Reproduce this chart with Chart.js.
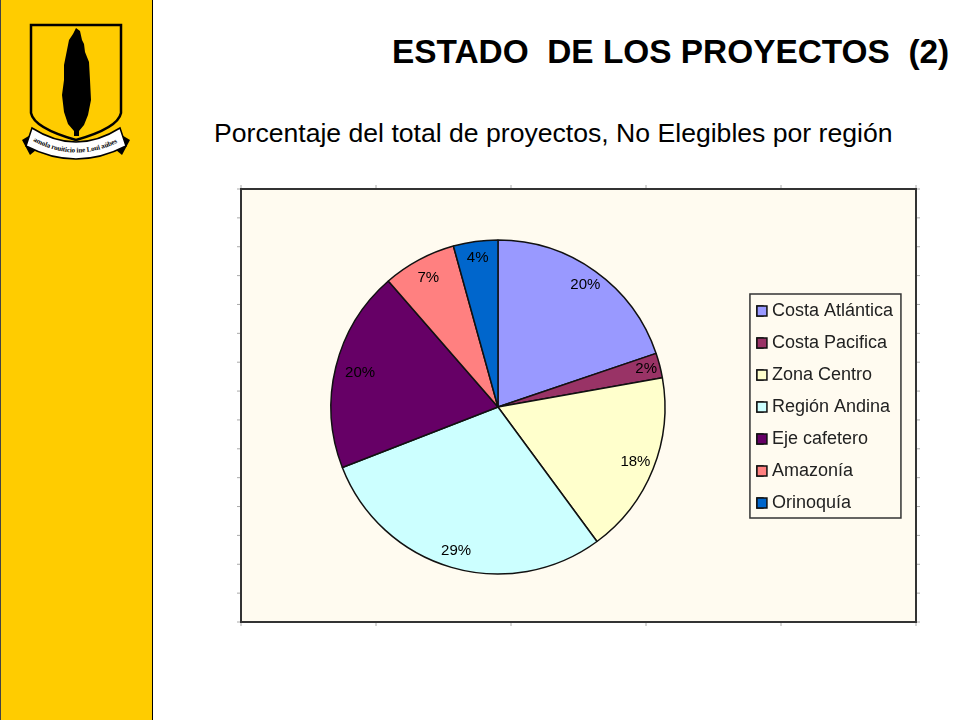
<!DOCTYPE html>
<html>
<head>
<meta charset="utf-8">
<title>Estado de los proyectos (2)</title>
<script src="https://cdn.jsdelivr.net/npm/chart.js@4"></script>
<style>
  html, body { margin: 0; padding: 0; background: #fff; }
  body { width: 960px; height: 720px; overflow: hidden; position: relative; font-family: "Liberation Sans", Arial, sans-serif; color: #000; }
  #sidebar { position: absolute; left: 0; top: 0; width: 151px; height: 720px; background: #FFCC00; border-left: 1px solid #444; border-right: 1px solid #000; }
  #logo { position: absolute; left: -1px; top: 0; }
  #title { position: absolute; left: 392px; top: 34px; font-size: 33.4px; font-weight: bold; white-space: pre; line-height: 36px; }
  #subtitle { position: absolute; left: 214px; top: 118px; font-size: 26.6px; white-space: pre; line-height: 30px; }
  #chartWrap { position: absolute; left: 234px; top: 182px; width: 690px; height: 448px; }
</style>
</head>
<body>
<div id="sidebar">
  <svg id="logo" width="152" height="180" viewBox="0 0 152 180">
    <path d="M31 25 H121 V113 Q118 128 76 140 Q34 128 31 113 Z" fill="#FFCC00" stroke="#000" stroke-width="2.5"/>
    <path d="M76 28 L80 31 L82 40 L84 44 L85 52 L89 62 L90 80 L91 100 L88 115 L84 125 L79 131 L79 136 L74 136 L74 131 L68 124 L64 112 L62 95 L64 80 L64 65 L67 50 L69 40 L73 34 Z" fill="#000"/>
    <path d="M22 140 L32 134 L36 150 L30 155 Z" fill="#000"/>
    <path d="M130 140 L120 134 L116 150 L122 155 Z" fill="#000"/>
    <path id="ribbon" d="M32 128 Q76 156 120 128 L126 146 Q76 172 26 146 Z" fill="#fff" stroke="#000" stroke-width="1.5"/>
    <path id="mottoLine" d="M33 141 Q76 164 121 141" fill="none"/>
    <text font-size="7" font-family="Liberation Serif" font-weight="bold" textLength="88"><textPath href="#mottoLine">amola rouiticio ine Loui aúbes</textPath></text>
  </svg>
</div>
<div id="title">ESTADO  DE LOS PROYECTOS  (2)</div>
<div id="subtitle">Porcentaje del total de proyectos, No Elegibles por región</div>
<div id="chartWrap"><canvas id="pieChart" width="690" height="448"></canvas></div>

<script>
// Chart data
var regions = ['Costa Atlántica', 'Costa Pacifica', 'Zona Centro', 'Región Andina', 'Eje cafetero', 'Amazonía', 'Orinoquía'];
var percentages = [19.8, 2.4, 17.7, 29.2, 19.5, 7.1, 4.3];
var sliceColors = ['#9999FF', '#993366', '#FFFFCC', '#CCFFFF', '#660066', '#FF8080', '#0066CC'];

// beige frame with the small handle ticks around it, and the legend box
var framePlugin = {
  id: 'frame',
  beforeDraw: function(chart) {
    var ctx = chart.ctx;
    var x0 = 7, y0 = 7, x1 = 682, y1 = 440;
    ctx.save();
    ctx.fillStyle = '#FFFBF0';
    ctx.fillRect(x0, y0, x1 - x0, y1 - y0);
    ctx.strokeStyle = '#aaa';
    ctx.lineWidth = 1;
    ctx.beginPath();
    for (var i = 0; i <= 5; i++) {
      var tx = x0 + (x1 - x0) * i / 5;
      ctx.moveTo(tx, y0 - 4); ctx.lineTo(tx, y0);
      ctx.moveTo(tx, y1); ctx.lineTo(tx, y1 + 4);
    }
    for (var j = 0; j <= 15; j++) {
      var ty = y0 + (y1 - y0) * j / 15;
      ctx.moveTo(x0 - 4, ty); ctx.lineTo(x0, ty);
      ctx.moveTo(x1, ty); ctx.lineTo(x1 + 4, ty);
    }
    ctx.stroke();
    ctx.strokeStyle = '#333';
    ctx.lineWidth = 2;
    ctx.strokeRect(x0, y0, x1 - x0, y1 - y0);
    var boxes = chart.legend.legendHitBoxes;
    var last = boxes[boxes.length - 1];
    ctx.lineWidth = 1.5;
    ctx.strokeRect(boxes[0].left - 7, boxes[0].top - 8, 151, last.top + last.height + 6 - boxes[0].top + 8);
    ctx.restore();
  },
  // the library keeps a wide gap after the swatch, so the legend uses a thin
  // box and the full swatch is painted over it
  afterDraw: function(chart) {
    var ctx = chart.ctx;
    ctx.save();
    ctx.lineWidth = 1.5;
    ctx.strokeStyle = '#111';
    chart.legend.legendHitBoxes.forEach(function(box, i) {
      ctx.fillStyle = sliceColors[i];
      ctx.fillRect(box.left, box.top + 4, 10, 10);
      ctx.strokeRect(box.left, box.top + 4, 10, 10);
    });
    ctx.restore();
  }
};

// percent labels just inside the rim of each slice
var labelInsets = [17, 14, 19, 17, 25, 20, 16];
var sliceLabels = {
  id: 'sliceLabels',
  afterDatasetsDraw: function(chart) {
    var ctx = chart.ctx;
    ctx.save();
    ctx.font = '15px "Liberation Sans"';
    ctx.fillStyle = '#000';
    ctx.textAlign = 'center';
    ctx.textBaseline = 'middle';
    chart.getDatasetMeta(0).data.forEach(function(arc, i) {
      var mid = (arc.startAngle + arc.endAngle) / 2;
      var r = arc.outerRadius - labelInsets[i];
      ctx.fillText(Math.round(percentages[i]) + '%', arc.x + Math.cos(mid) * r, arc.y + Math.sin(mid) * r);
    });
    ctx.restore();
  }
};

var pieChart = new Chart(document.getElementById('pieChart').getContext('2d'), {
  type: 'pie',
  data: {
    labels: regions,
    datasets: [{
      data: percentages,
      backgroundColor: sliceColors,
      borderColor: '#111',
      borderWidth: 1.5
    }]
  },
  options: {
    responsive: false,
    animation: false,
    devicePixelRatio: 1,
    radius: 167,
    layout: { padding: { left: 19, right: 21, top: 2, bottom: 0 } },
    plugins: {
      tooltip: { enabled: false },
      legend: {
        position: 'right',
        labels: {
          boxWidth: 6,
          boxHeight: 10,
          padding: 14,
          color: '#222',
          font: { family: '"Liberation Sans"', size: 18 }
        }
      }
    }
  },
  plugins: [framePlugin, sliceLabels]
});
</script>
</body>
</html>
